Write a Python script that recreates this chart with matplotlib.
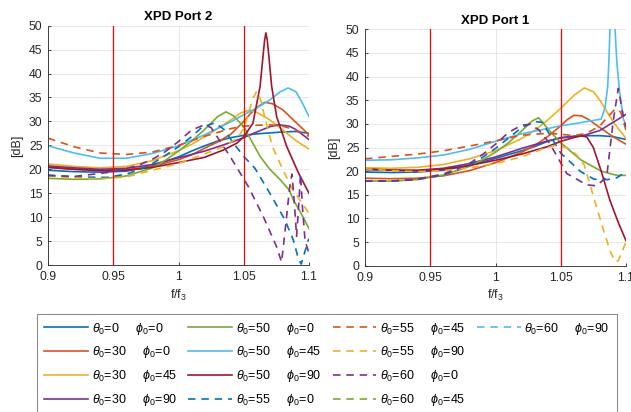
import matplotlib
matplotlib.use('Agg')
import matplotlib.pyplot as plt
from matplotlib.lines import Line2D

# legend text: (theta0, phi0) for each curve, solid ones first then dashed
thetas = [0, 30, 30, 30, 50, 50, 50, 55, 55, 55, 60, 60, 60]
phis = [0, 0, 45, 90, 0, 45, 90, 0, 45, 90, 0, 45, 90]
colors = ['#0072BD', '#D95319', '#EDB120', '#7E2F8E', '#77AC30', '#4DBEEE', '#A2142F',
          '#0072BD', '#D95319', '#EDB120', '#7E2F8E', '#77AC30', '#4DBEEE']
styles = ['-'] * 7 + ['--'] * 6

red_lines = [0.95, 1.05]
xticks = [0.9, 0.95, 1.0, 1.05, 1.1]
xtick_labels = ['0.9', '0.95', '1', '1.05', '1.1']
yticks = list(range(0, 51, 5))

# ---- XPD Port 2 (left)  (f/f3 , dB)
p2_t0_p0 = ([0.9, 0.92, 0.94, 0.96, 0.98, 1.0, 1.01, 1.02, 1.03, 1.04, 1.05, 1.06, 1.07, 1.08, 1.09, 1.1],
            [19.8, 19.5, 19.4, 19.6, 20.7, 22.6, 23.8, 24.9, 25.9, 26.6, 27.1, 27.4, 27.6, 27.8, 27.9, 27.5])
p2_t30_p0 = ([0.9, 0.92, 0.94, 0.96, 0.98, 1.0, 1.01, 1.02, 1.03, 1.04, 1.05, 1.055, 1.06, 1.066, 1.072, 1.08, 1.09, 1.1],
             [20.4, 20.0, 19.8, 19.9, 20.6, 22.0, 23.0, 24.4, 25.7, 27.3, 30.0, 31.6, 32.9, 34.0, 33.7, 32.4, 29.8, 27.2])
p2_t30_p45 = ([0.9, 0.92, 0.94, 0.96, 0.98, 1.0, 1.01, 1.02, 1.03, 1.04, 1.048, 1.054, 1.06, 1.07, 1.08, 1.09, 1.1],
              [21.1, 20.6, 20.3, 20.6, 21.8, 23.9, 25.2, 26.8, 28.5, 30.3, 31.8, 32.3, 31.9, 30.3, 28.2, 26.0, 24.2])
p2_t30_p90 = ([0.9, 0.92, 0.94, 0.96, 0.98, 1.0, 1.02, 1.04, 1.05, 1.06, 1.07, 1.077, 1.085, 1.09, 1.1],
              [20.7, 20.3, 20.0, 20.2, 21.0, 22.4, 23.8, 25.6, 26.6, 27.8, 28.9, 29.3, 29.0, 28.3, 26.2])
p2_t50_p0 = ([0.9, 0.92, 0.94, 0.96, 0.98, 0.99, 1.0, 1.01, 1.02, 1.03, 1.0364, 1.042, 1.05, 1.0625, 1.07, 1.078, 1.085, 1.088, 1.094, 1.1],
             [18.1, 17.9, 18.0, 18.6, 20.3, 21.9, 23.8, 25.9, 28.3, 31.0, 32.0, 31.2, 28.9, 22.7, 20.0, 17.8, 15.6, 13.6, 10.8, 7.6])
p2_t50_p45 = ([0.9, 0.92, 0.94, 0.96, 0.98, 1.0, 1.02, 1.04, 1.05, 1.06, 1.07, 1.078, 1.084, 1.09, 1.095, 1.1],
              [24.9, 23.4, 22.3, 22.3, 23.3, 24.9, 27.2, 29.9, 31.4, 32.8, 34.5, 36.2, 37.0, 36.2, 33.8, 31.0])
p2_t50_p90 = ([0.9, 0.92, 0.94, 0.96, 0.98, 1.0, 1.02, 1.035, 1.045, 1.05, 1.057, 1.0625, 1.065, 1.066, 1.067, 1.068, 1.069, 1.0714, 1.0752, 1.083, 1.092, 1.1],
              [20.4, 20.0, 19.7, 19.8, 20.4, 21.4, 22.5, 24.1, 25.5, 26.8, 29.6, 37.3, 44.3, 47.0, 48.5, 47.0, 44.3, 37.3, 31.0, 24.7, 19.2, 15.0])
p2_t55_p0 = ([0.9, 0.92, 0.945, 0.96, 0.97, 0.98, 0.99, 1.0, 1.01, 1.018, 1.028, 1.035, 1.042, 1.05, 1.0586, 1.07, 1.0816, 1.088, 1.0918, 1.094, 1.0995, 1.1],
             [18.8, 18.4, 18.3, 19.0, 19.9, 21.2, 22.9, 24.7, 26.8, 28.8, 29.7, 28.3, 25.5, 22.7, 20.2, 15.0, 9.4, 5.2, 1.4, 0.2, 5.2, 5.5])
p2_t55_p45 = ([0.9, 0.92, 0.94, 0.96, 0.98, 1.0, 1.02, 1.04, 1.05, 1.06, 1.07, 1.08, 1.09, 1.1],
              [26.5, 24.7, 23.4, 23.1, 23.6, 25.0, 26.9, 28.5, 29.0, 29.2, 29.3, 29.0, 28.2, 26.9])
p2_t55_p90 = ([0.9, 0.92, 0.94, 0.96, 0.98, 1.0, 1.02, 1.035, 1.045, 1.05, 1.054, 1.057, 1.06, 1.063, 1.066, 1.072, 1.08, 1.087, 1.093, 1.1],
              [18.6, 18.2, 18.0, 18.4, 19.8, 21.2, 23.2, 24.8, 26.5, 28.5, 32.0, 34.8, 36.3, 34.5, 31.0, 24.7, 19.9, 16.0, 13.6, 10.8])
p2_t60_p0 = ([0.9, 0.92, 0.945, 0.96, 0.97, 0.98, 0.99, 1.0, 1.01, 1.02, 1.025, 1.032, 1.0395, 1.0535, 1.065, 1.0752, 1.079, 1.082, 1.0855, 1.087, 1.089, 1.0905, 1.092, 1.0935, 1.095, 1.097, 1.1],
             [18.7, 18.5, 19.3, 20.2, 20.9, 22.1, 23.7, 25.8, 28.2, 29.3, 28.7, 25.8, 22.7, 16.4, 10.1, 3.8, 0.6, 8.0, 17.0, 19.0, 12.0, 6.0, 12.0, 19.0, 12.0, 5.0, 2.5])
p2_t60_p45 = ([], [])  # in the legend, not visible in the plot
p2_t60_p90 = ([], [])

# ---- XPD Port 1 (right)
p1_t0_p0 = ([0.9, 0.92, 0.94, 0.96, 0.98, 1.0, 1.02, 1.03, 1.04, 1.05, 1.06, 1.07, 1.08, 1.09, 1.1],
            [19.8, 19.7, 19.8, 20.2, 21.2, 22.7, 24.3, 25.2, 26.3, 27.1, 27.4, 27.5, 27.5, 27.3, 26.7])
p1_t30_p0 = ([0.9, 0.92, 0.94, 0.96, 0.98, 1.0, 1.02, 1.03, 1.04, 1.05, 1.055, 1.06, 1.066, 1.072, 1.08, 1.09, 1.1],
             [18.5, 18.4, 18.5, 19.0, 20.1, 21.8, 24.0, 25.4, 27.3, 29.6, 30.9, 31.8, 31.7, 30.8, 29.2, 27.3, 25.7])
p1_t30_p45 = ([0.9, 0.92, 0.94, 0.96, 0.98, 1.0, 1.02, 1.03, 1.04, 1.05, 1.06, 1.068, 1.075, 1.08, 1.09, 1.1],
              [20.7, 20.6, 20.8, 21.4, 22.6, 24.3, 26.9, 28.6, 30.8, 33.3, 36.0, 37.6, 36.8, 35.0, 30.5, 26.9])
p1_t30_p90 = ([0.9, 0.92, 0.94, 0.96, 0.98, 1.0, 1.02, 1.04, 1.05, 1.06, 1.067, 1.08, 1.09, 1.1],
              [20.3, 20.2, 20.2, 20.6, 21.6, 23.0, 24.8, 26.4, 27.0, 27.3, 27.5, 28.6, 30.3, 32.0])
p1_t50_p0 = ([0.9, 0.92, 0.94, 0.96, 0.98, 0.99, 1.0, 1.01, 1.02, 1.028, 1.033, 1.0415, 1.05, 1.0653, 1.081, 1.093, 1.1],
             [17.9, 17.9, 18.2, 19.2, 21.0, 22.4, 24.0, 26.0, 28.5, 30.6, 31.3, 28.5, 26.0, 22.4, 20.0, 19.1, 19.1])
p1_t50_p45 = ([0.9, 0.92, 0.94, 0.96, 0.98, 1.0, 1.02, 1.04, 1.05, 1.06, 1.07, 1.081, 1.084, 1.086, 1.087, 1.0877, 1.0895, 1.0916, 1.093, 1.095, 1.098, 1.1],
              [22.3, 22.4, 22.8, 23.4, 24.6, 26.3, 27.9, 29.0, 29.6, 30.0, 30.5, 31.0, 33.5, 38.0, 44.0, 50.0, 60.0, 50.0, 43.0, 37.0, 31.0, 29.8])
p1_t50_p90 = ([0.9, 0.92, 0.94, 0.96, 0.98, 1.0, 1.02, 1.04, 1.05, 1.06, 1.066, 1.07, 1.075, 1.081, 1.0877, 1.094, 1.1],
              [20.5, 20.2, 20.1, 20.4, 21.2, 22.3, 23.6, 25.2, 26.3, 27.1, 27.5, 27.2, 25.0, 20.0, 13.8, 9.2, 5.3])
p1_t55_p0 = ([0.9, 0.92, 0.94, 0.96, 0.97, 0.98, 0.99, 1.0, 1.01, 1.02, 1.03, 1.036, 1.042, 1.05, 1.0653, 1.0755, 1.0857, 1.093, 1.1],
             [17.9, 17.9, 18.2, 19.2, 20.1, 21.3, 22.9, 24.8, 27.0, 29.2, 30.5, 30.3, 27.5, 23.8, 19.9, 18.3, 18.2, 18.6, 19.9])
p1_t55_p45 = ([0.9, 0.92, 0.94, 0.96, 0.98, 1.0, 1.02, 1.04, 1.05, 1.06, 1.07, 1.08, 1.087, 1.092, 1.096, 1.1],
              [22.6, 23.1, 23.6, 24.3, 25.3, 26.4, 27.6, 28.0, 27.8, 27.5, 28.0, 29.6, 31.8, 33.2, 32.5, 28.6])
p1_t55_p90 = ([0.9, 0.92, 0.94, 0.96, 0.98, 1.0, 1.02, 1.035, 1.045, 1.055, 1.062, 1.068, 1.0755, 1.0831, 1.088, 1.0916, 1.094, 1.1],
              [20.5, 20.1, 19.9, 20.1, 20.7, 21.6, 23.0, 24.6, 25.4, 25.0, 23.5, 21.3, 14.2, 7.2, 3.0, 0.9, 1.0, 5.0])
p1_t60_p0 = ([0.9, 0.92, 0.94, 0.96, 0.97, 0.98, 0.99, 1.0, 1.01, 1.02, 1.026, 1.033, 1.0415, 1.0546, 1.0699, 1.0775, 1.0852, 1.0903, 1.0941, 1.098, 1.1],
             [17.9, 17.9, 18.3, 19.4, 20.4, 21.6, 23.5, 25.7, 28.2, 29.7, 29.9, 28.8, 25.9, 19.5, 17.1, 16.9, 18.8, 30.8, 37.5, 31.5, 29.4])
p1_t60_p45 = ([], [])
p1_t60_p90 = ([], [])

port2 = [p2_t0_p0, p2_t30_p0, p2_t30_p45, p2_t30_p90, p2_t50_p0, p2_t50_p45, p2_t50_p90,
         p2_t55_p0, p2_t55_p45, p2_t55_p90, p2_t60_p0, p2_t60_p45, p2_t60_p90]
port1 = [p1_t0_p0, p1_t30_p0, p1_t30_p45, p1_t30_p90, p1_t50_p0, p1_t50_p45, p1_t50_p90,
         p1_t55_p0, p1_t55_p45, p1_t55_p90, p1_t60_p0, p1_t60_p45, p1_t60_p90]

plt.rcParams['font.family'] = ['Liberation Sans', 'DejaVu Sans']
plt.rcParams['mathtext.fontset'] = 'custom'
plt.rcParams['mathtext.rm'] = 'Liberation Sans'
plt.rcParams['mathtext.it'] = 'Liberation Sans:italic'
plt.rcParams['font.size'] = 8.5
dark = '#262626'
lw = 1.2
dash = (4.5, 3.5)

fig = plt.figure(figsize=(6.31, 4.12), dpi=100)
W, H = 631.0, 412.0
ax2 = fig.add_axes([48 / W, 1 - 265 / H, 261 / W, 239.3 / H])
ax1 = fig.add_axes([365 / W, 1 - 265.7 / H, 261 / W, 236.4 / H])


def draw(ax, data, title):
    lines = []
    for (f, db), c, ls in zip(data, colors, styles):
        if ls == '--':
            ln, = ax.plot(f, db, color=c, lw=lw, linestyle='--', dashes=dash)
        else:
            ln, = ax.plot(f, db, color=c, lw=lw)
        lines.append(ln)
    for x in red_lines:
        ax.axvline(x, color='#ff0000', lw=0.9)
    ax.set_xlim(0.9, 1.1)
    ax.set_ylim(0, 50)
    ax.set_xticks(xticks)
    ax.set_xticklabels(xtick_labels)
    ax.set_yticks(yticks)
    ax.grid(True, color='#e3e3e3', lw=0.6)
    ax.set_axisbelow(True)
    for s in ['top', 'right']:
        ax.spines[s].set_visible(False)
    for s in ['left', 'bottom']:
        ax.spines[s].set_color(dark)
        ax.spines[s].set_linewidth(0.6)
    ax.tick_params(direction='in', length=2.5, width=0.6, colors=dark, labelsize=8.7)
    ax.tick_params(axis='x', pad=4.5)
    ax.tick_params(axis='y', pad=4)
    ax.set_title(title, fontsize=9.5, fontweight='bold', pad=4)
    ax.set_xlabel('f/f$_3$', fontsize=9, color=dark, labelpad=3)
    ax.set_ylabel('[dB]', fontsize=9, color=dark, labelpad=4)
    return lines


lines = draw(ax2, port2, 'XPD Port 2')
draw(ax1, port1, 'XPD Port 1')

labels = [r'$\theta_0$=%d     $\phi_0$=%d' % (t, p) for t, p in zip(thetas, phis)]
blank = Line2D([], [], color='none')
handles = lines + [blank] * 3
labels = labels + [''] * 3
leg = fig.legend(handles, labels, ncols=4, loc='upper left',
                 bbox_to_anchor=(37.3 / W, 1 - 313.7 / H), bbox_transform=fig.transFigure,
                 fontsize=9, frameon=True, fancybox=False, edgecolor='#707070',
                 handlelength=3.5, handletextpad=0.3, columnspacing=0.9,
                 labelspacing=0.63, borderpad=0.55, borderaxespad=0)
leg.get_frame().set_linewidth(0.8)

fig.savefig('out.png', dpi=100)
